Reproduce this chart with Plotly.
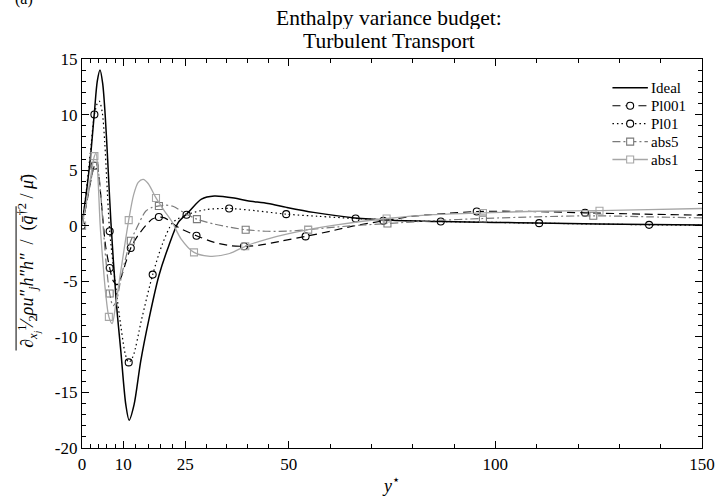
import plotly.graph_objects as go

# ---------------- data ----------------
ideal_x = [0, 1, 2, 3, 3.7, 4.36, 5.0, 5.6, 6.2, 7.0, 8.3, 9.4, 10.6, 11.4, 12.6, 14.2, 16.2, 18.6, 21, 23.3,
           25.7, 28.9, 32, 36.8, 40, 45, 49.5, 56, 66, 75, 87, 100, 110, 125, 137, 150]
ideal_y = [0, 2.8, 6.0, 10.2, 13.0, 14.0, 12.8, 10.0, 6.0, 0.3, -6.9, -11.3, -16.1, -17.5, -16.1, -12.2, -8.4, -4.5, -1.8, 0.3,
           1.2, 2.4, 2.68, 2.5, 2.25, 2.0, 1.65, 1.2, 0.7, 0.5, 0.38, 0.3, 0.25, 0.15, 0.1, 0.06]

p1001_x = [0, 1, 2, 3.0, 3.5, 4.2, 5.0, 5.7, 6.7, 7.6, 8.5, 9.5, 10.6, 11.8, 13.5, 15.4, 17, 18.6, 20, 23.3,
           27.7, 32, 36, 39.2, 43, 48, 54.1, 60, 66, 72.9, 80, 88, 95.5, 105, 113, 121.7, 135, 150]
p1001_y = [0, 1.8, 3.8, 5.4, 5.6, 4.0, 0.8, -1.8, -3.8, -5.0, -5.3, -4.6, -3.3, -2.0, -0.9, 0.0, 0.6, 0.78, 0.7, -0.15,
           -0.9, -1.5, -1.8, -1.85, -1.75, -1.4, -0.96, -0.5, 0.0, 0.44, 0.85, 1.1, 1.28, 1.3, 1.25, 1.16, 1.05, 0.95]
p1001_mx = [0, 3.0, 6.7, 11.8, 18.6, 27.7, 39.2, 54.1, 72.9, 95.5, 121.7]
p1001_my = [0, 5.4, -3.8, -2.0, 0.78, -0.9, -1.85, -0.96, 0.44, 1.28, 1.16]

p101_x = [0, 1, 2, 3.0, 3.7, 4.2, 4.9, 5.5, 6.0, 6.7, 8.0, 9.5, 10.5, 11.3, 12.3, 14.5, 17.1, 19.5, 22, 25.3,
          30, 35.6, 42, 49.4, 57, 66.2, 75, 86.8, 100, 110.6, 125, 137.2, 150]
p101_y = [0, 3.0, 6.5, 10.0, 11.0, 11.2, 10.2, 7.5, 4.0, -0.5, -5.0, -9.3, -11.6, -12.3, -11.8, -8.3, -4.4, -1.6, 0.3, 0.98,
          1.45, 1.55, 1.35, 1.04, 0.85, 0.65, 0.5, 0.38, 0.3, 0.23, 0.15, 0.08, 0.05]
p101_mx = [0, 3.0, 6.7, 11.3, 17.1, 25.3, 35.6, 49.4, 66.2, 86.8, 110.6, 137.2]
p101_my = [0, 10.0, -0.5, -12.3, -4.4, 0.98, 1.55, 1.04, 0.65, 0.38, 0.23, 0.08]

abs5_x = [0, 1, 2, 3.0, 3.5, 4.2, 5.0, 5.8, 6.7, 7.5, 8.3, 9.3, 10.5, 11.8, 13, 15.4, 17, 18.6, 20, 22, 25,
          27.8, 32, 36, 39.6, 45, 50, 54.7, 62, 73.9, 85, 97, 110, 123.7, 137, 150]
abs5_y = [0, 1.8, 3.8, 5.4, 5.6, 4.2, 0.5, -3.2, -6.1, -7.2, -6.8, -5.0, -3.0, -1.35, -0.4, 1.3, 1.65, 1.78, 1.85, 1.75, 1.1,
          0.59, 0.15, -0.15, -0.36, -0.5, -0.48, -0.36, -0.1, 0.2, 0.45, 0.65, 0.8, 0.89, 0.8, 0.7]
abs5_mx = [0, 3.0, 6.7, 11.8, 18.6, 27.8, 39.6, 54.7, 73.9, 97, 123.7]
abs5_my = [0, 5.4, -6.1, -1.35, 1.78, 0.59, -0.36, -0.36, 0.2, 0.65, 0.89]

abs1_x = [0, 1, 2, 3.0, 3.4, 3.9, 4.4, 5.0, 5.7, 6.5, 7.3, 8.2, 9.5, 11.3, 12.5, 13.6, 14.8, 16, 17.9, 20, 21.7,
          24, 27.1, 31, 35.7, 39.5, 44.8, 54.7, 62, 73.7, 85, 97, 110, 125.2, 137, 150]
abs1_y = [0, 2.0, 4.2, 6.26, 6.5, 4.0, 0.0, -3.0, -6.0, -8.2, -8.8, -7.0, -3.8, 0.5, 2.8, 3.9, 4.17, 3.8, 2.5, 1.3, 0.4,
          -1.2, -2.4, -2.75, -2.5, -1.85, -1.2, -0.36, 0.1, 0.65, 1.0, 1.15, 1.3, 1.35, 1.45, 1.55]
abs1_mx = [0, 3.0, 6.5, 11.3, 17.9, 27.1, 39.5, 54.7, 73.7, 97, 125.2]
abs1_my = [0, 6.26, -8.2, 0.5, 2.5, -2.4, -1.85, -0.36, 0.65, 1.15, 1.35]

x_tickvals = [0, 10, 25, 50, 100, 150]
x_minor = [2, 4, 6, 8, 13, 16, 19, 22, 30, 35, 40, 45, 60, 70, 80, 90, 110, 120, 130, 140]
y_tickvals = [15, 10, 5, 0, -5, -10, -15, -20]
y_ticktext = ["15", "10", "5", "0", "-5", "-10", "-15", "-20"]

title_lines = ["Enthalpy variance budget:", "Turbulent Transport"]

FONT = "Liberation Serif"

series = [
    # name, x, y, mx, my, color, dash, symbol, width
    ("Ideal", ideal_x, ideal_y, None, None, "black", "solid", None, 1.5),
    ("Pl001", p1001_x, p1001_y, p1001_mx, p1001_my, "black", "8px,5px", "circle-open", 1.2),
    ("Pl01", p101_x, p101_y, p101_mx, p101_my, "black", "1.5px,3px", "circle-open", 1.2),
    ("abs5", abs5_x, abs5_y, abs5_mx, abs5_my, "#7a7a7a", "8px,3px,2px,3px", "square-open", 1.2),
    ("abs1", abs1_x, abs1_y, abs1_mx, abs1_my, "#a6a6a6", "solid", "square-open", 1.3),
]


def py2paper(py):
    return 1 + (59 - py) / 391


def px2paper(px):
    return (px - 82) / 630


fig = go.Figure()
shapes = []
annots = []
legend_rows = [88, 106, 124, 142, 160]
for (name, x, y, mx, my, col, dash, sym, w), ly in zip(series, legend_rows):
    fig.add_trace(go.Scatter(x=x, y=y, mode="lines", name=name,
                             line=dict(color=col, dash=dash, width=w, shape="spline", smoothing=0.8),
                             showlegend=False, hoverinfo="skip"))
    if mx is not None:
        fig.add_trace(go.Scatter(x=mx, y=my, mode="markers", name=name,
                                 marker=dict(symbol=sym, size=7, color=col, line=dict(width=1.1, color=col)),
                                 showlegend=False, hoverinfo="skip"))
    # hand-drawn legend row (paper coordinates)
    yl = py2paper(ly)
    shapes.append(dict(type="line", xref="paper", yref="paper", x0=px2paper(621), x1=px2paper(657),
                       y0=yl, y1=yl, line=dict(color=col, dash=dash, width=w)))
    if sym is not None:
        shapes.append(dict(type="circle" if sym.startswith("circle") else "rect",
                           xref="paper", yref="paper", xsizemode="pixel", ysizemode="pixel",
                           xanchor=px2paper(639), yanchor=yl, x0=-3.5, x1=3.5, y0=-3.5, y1=3.5,
                           fillcolor="white", line=dict(color=col, width=1.1)))
    annots.append(dict(text=name, xref="paper", yref="paper", x=px2paper(658), y=yl,
                       xanchor="left", yanchor="middle", showarrow=False, height=17,
                       font=dict(family=FONT, size=15, color="black")))

axis_common = dict(showline=True, linecolor="black", linewidth=1.3, mirror="ticks", ticks="inside",
                   tickcolor="black", tickwidth=1.2, ticklen=7, showgrid=False, zeroline=False,
                   tickfont=dict(family=FONT, size=17, color="black"))

fig.update_xaxes(range=[0, 150], tickmode="array", tickvals=x_tickvals,
                 minor=dict(tickmode="array", tickvals=x_minor, ticks="inside", ticklen=4, tickcolor="black",
                            tickwidth=1.1, showgrid=False),
                 title=dict(text="<i>y</i><sup>⋆</sup>", font=dict(family=FONT, size=18, color="black"), standoff=6),
                 **axis_common)
fig.update_yaxes(range=[-20, 15], tickmode="array", tickvals=y_tickvals, ticktext=y_ticktext,
                 minor=dict(dtick=1, tick0=0, ticks="inside", ticklen=4, tickcolor="black", tickwidth=1.1, showgrid=False),
                 **axis_common)

ylabel = ("∂<sub><i>x</i><sub><i>j</i></sub></sub><sup>1</sup>⁄<sub>2</sub><i>ρu″<sub>j</sub>h″h″</i>"
          "  /  (<i>q̄</i><sup>†2</sup> / <i>μ̄</i>)")

annots += [
    dict(text="(a)", xref="paper", yref="paper", x=px2paper(23), y=py2paper(-1),
         xanchor="center", yanchor="middle", showarrow=False, font=dict(family=FONT, size=16, color="black")),
    dict(text=ylabel, xref="paper", yref="paper", x=px2paper(28), y=py2paper(262),
         xanchor="center", yanchor="middle", textangle=-90, showarrow=False,
         font=dict(family=FONT, size=18, color="black")),
]
for t, py in zip(title_lines, [18, 40.5]):
    annots.append(dict(text=t, xref="paper", yref="paper", x=px2paper(394), y=py2paper(py),
                       xanchor="center", yanchor="middle", showarrow=False, height=22,
                       font=dict(family=FONT, size=21.5, color="black")))

shapes.append(dict(type="line", xref="paper", yref="paper", x0=px2paper(15), x1=px2paper(15),
                   y0=py2paper(352), y1=py2paper(207), line=dict(color="black", width=1)))

fig.update_layout(
    width=727, height=504,
    margin=dict(l=82, r=15, t=59, b=54),
    paper_bgcolor="white", plot_bgcolor="white",
    font=dict(family=FONT, size=15, color="black"),
    showlegend=False,
    annotations=annots,
    shapes=shapes,
)

fig.write_html("out.html")
